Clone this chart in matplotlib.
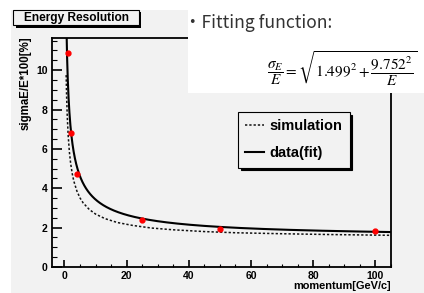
import numpy as np
import matplotlib
matplotlib.use('Agg')
import matplotlib.pyplot as plt
from matplotlib.patches import Rectangle
from matplotlib.ticker import MultipleLocator

# measured points (red)
momentum = [1, 2, 4, 25, 50, 100]
resolution = [10.88, 6.81, 4.75, 2.37, 1.92, 1.83]

# simulation curve
sim_momentum = [0.55, 0.7, 0.9, 1.2, 1.6, 2, 2.5, 3, 4, 5, 6, 8, 10, 13, 17,
                22, 28, 35, 45, 55, 70, 85, 105]
sim_resolution = [9.75, 8.67, 7.67, 6.69, 5.83, 5.26, 4.75, 4.37, 3.86, 3.51,
                  3.26, 2.92, 2.69, 2.46, 2.26, 2.11, 1.98, 1.89, 1.80, 1.74,
                  1.69, 1.65, 1.61]

# fit parameters shown in the formula
fit_const = 1.499
fit_stoch = 9.752

W, H = 424, 293
BG = '#f2f2f2'
bold = dict(family='Liberation Sans', weight='bold')

fig = plt.figure(figsize=(W / 100, H / 100), dpi=100)
fig.patch.set_facecolor('white')

# grey canvas
fig.add_artist(Rectangle((11 / W, 0), 1, 1 - 10 / H, transform=fig.transFigure,
                         facecolor=BG, edgecolor='none', zorder=-10))

ax = fig.add_axes([52 / W, 1 - 267 / H, (391 - 52) / W, (267 - 37.7) / H])
ax.set_facecolor(BG)

ax.plot(sim_momentum, sim_resolution, color='#111111', lw=1.1,
        linestyle=(0, (1.5, 1.3)), label='simulation')
E = np.linspace(0.5, 105, 2000)
ax.plot(E, np.sqrt(fit_const**2 + fit_stoch**2 / E), color='black', lw=1.5,
        label='data(fit)')
ax.plot(momentum, resolution, 'o', color='red', ms=3.5, mec='red', zorder=5)

ax.set_xlim(-4, 105)
ax.set_ylim(0, 11.65)
ax.set_xticks([0, 20, 40, 60, 80, 100])
ax.set_yticks([0, 2, 4, 6, 8, 10])
ax.xaxis.set_minor_locator(MultipleLocator(5))
ax.yaxis.set_minor_locator(MultipleLocator(0.5))
ax.tick_params(axis='both', which='both', direction='in', labelsize=7.5, pad=3)
ax.tick_params(axis='y', which='major', length=7.2, width=1.2)
ax.tick_params(axis='y', which='minor', length=3.6, width=0.8)
ax.tick_params(axis='x', which='major', length=5, width=1.2)
ax.tick_params(axis='x', which='minor', length=2.5, width=0.8)
for lab in ax.get_xticklabels() + ax.get_yticklabels():
    lab.set_fontfamily('Liberation Sans')
    lab.set_fontweight('bold')
for sp in ax.spines.values():
    sp.set_linewidth(1.3)

leg = ax.legend(loc='upper left', bbox_to_anchor=(238 / W, 1 - 112 / H),
                bbox_transform=fig.transFigure, borderaxespad=0,
                prop=dict(bold, size=10.5), fancybox=False, edgecolor='black',
                facecolor=BG, framealpha=1, handlelength=1.3,
                handletextpad=0.35, labelspacing=0.9, borderpad=0.5,
                shadow={'color': 'black', 'alpha': 1, 'ox': 2, 'oy': -2})
leg.get_frame().set_linewidth(0.8)

# axis titles
fig.text(26 / W, 1 - 36 / H, 'sigmaE/E*100[%]', rotation=90, ha='center',
         va='top', size=8.3, **bold)
fig.text(391 / W, 1 - 286 / H, 'momentum[GeV/c]', ha='right', va='center',
         size=7.9, **bold)

# title box
fig.add_artist(Rectangle((15.5 / W, 1 - 27.5 / H), 125.5 / W, 15.5 / H,
                         transform=fig.transFigure, facecolor='black',
                         edgecolor='none', zorder=3))
fig.add_artist(Rectangle((13 / W, 1 - 25 / H), 125.5 / W, 15 / H,
                         transform=fig.transFigure, facecolor=BG,
                         edgecolor='black', lw=0.8, zorder=4))
fig.text(76 / W, 1 - 17.5 / H, 'Energy Resolution', ha='center', va='center',
         size=8.6, zorder=5, **bold)

# pasted white box with the fitting function
fig.add_artist(Rectangle((188 / W, 1 - 93.3 / H), 1, 1, transform=fig.transFigure,
                         facecolor='white', edgecolor='none', zorder=10))
fig.text(184 / W, 1 - 28 / H, '・Fitting function:', ha='left', va='baseline',
         size=12.6, color='#333333', family=['Noto Sans CJK JP', 'DejaVu Sans'],
         zorder=11)
fig.text(342 / W, 1 - 69 / H,
         r'$\dfrac{\sigma_{E}}{E}=\sqrt{1.499^{2}+\dfrac{9.752^{2}}{E}}$',
         ha='center', va='center', size=11, math_fontfamily='stix', zorder=11)

fig.savefig('out.png', dpi=100)
